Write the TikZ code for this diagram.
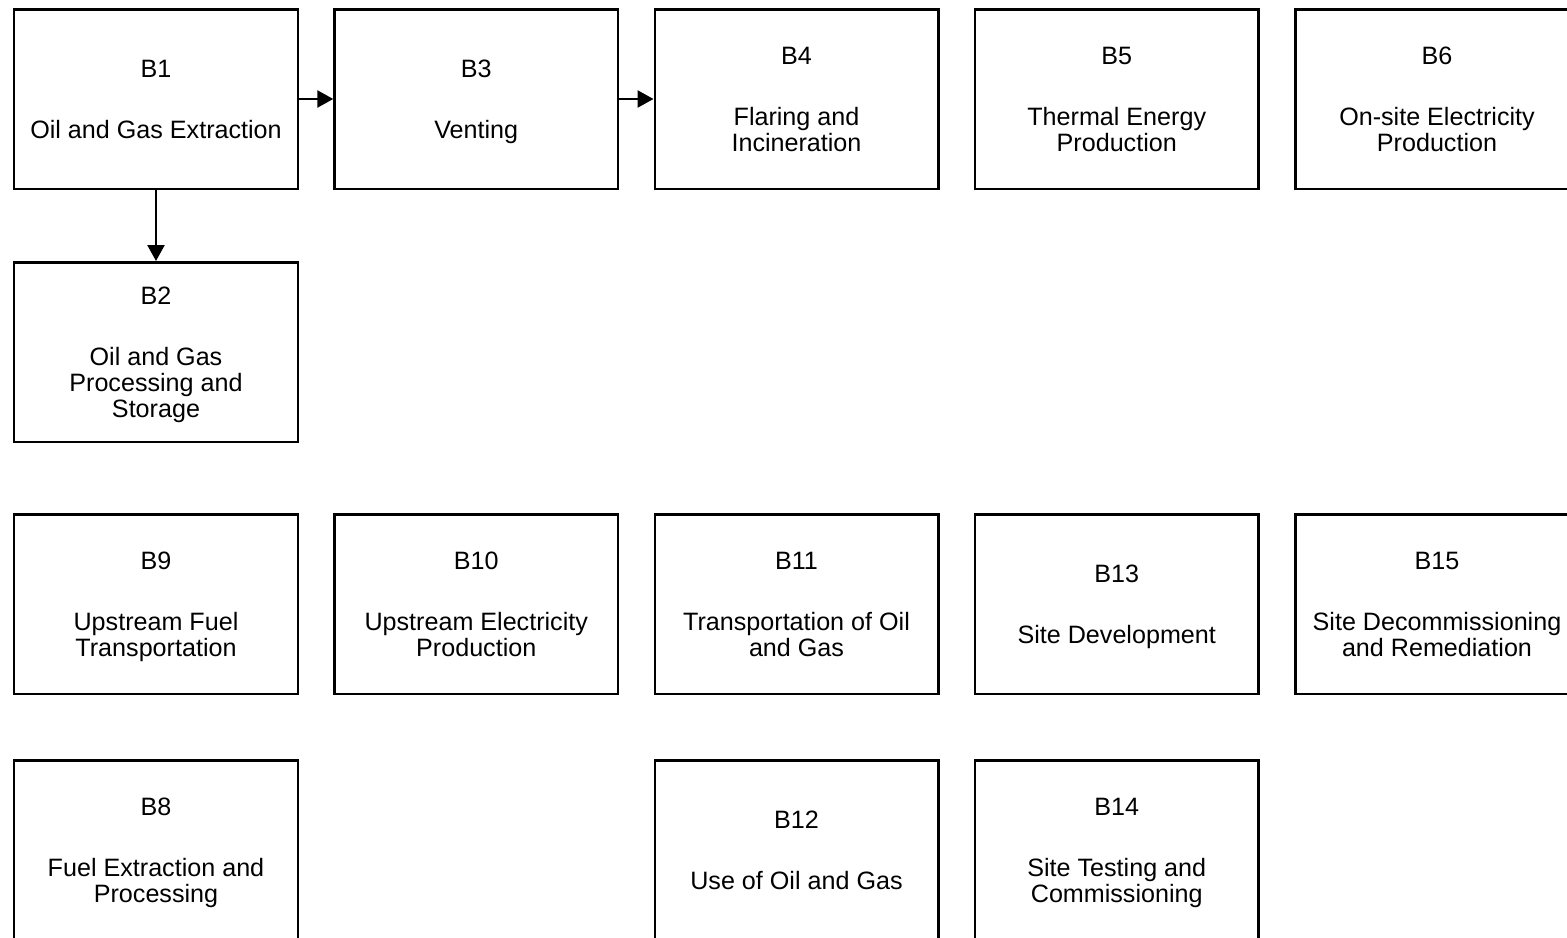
\documentclass[tikz,border=0pt]{standalone}
\usepackage{fontspec}
\setmainfont{Liberation Sans}
\usepackage{tikz}
\usetikzlibrary{arrows.meta, positioning}

\begin{document}
\begin{tikzpicture}[
  node distance=1.42cm and 0.685cm,
  block/.style={draw, line width=0.05cm, minimum width=5.67cm, minimum height=3.59cm,
    inner sep=0pt, text depth=0pt, align=center, font=\fontsize{14.3}{14.8}\selectfont},
  flow/.style={-{Triangle[length=0.32cm, width=0.34cm]}, line width=0.05cm}
]
  \useasboundingbox (0,0) rectangle (31.34,-18.76);

  % first row
  \node[block] (b1) at (3.12,-1.98) {B1\\[0.7cm]Oil and Gas Extraction};
  \node[block, right=of b1] (b3) {B3\\[0.7cm]Venting};
  \node[block, right=of b3] (b4) {B4\\[0.7cm]Flaring and\\Incineration};
  \node[block, right=of b4] (b5) {B5\\[0.7cm]Thermal Energy\\Production};
  \node[block, right=of b5] (b6) {B6\\[0.7cm]On-site Electricity\\Production};

  \node[block, below=of b1] (b2) {B2\\[0.7cm]Oil and Gas\\Processing and\\Storage};

  % third row
  \node[block, below=1.4cm of b2] (b9) {B9\\[0.7cm]Upstream Fuel\\Transportation};
  \node[block, right=of b9] (b10) {B10\\[0.7cm]Upstream Electricity\\Production};
  \node[block, right=of b10] (b11) {B11\\[0.7cm]Transportation of Oil\\and Gas};
  \node[block, right=of b11] (b13) {B13\\[0.7cm]Site Development};
  \node[block, right=of b13] (b15) {B15\\[0.7cm]Site Decommissioning\\and Remediation};

  % last row
  \node[block, below=1.28cm of b9] (b8) {B8\\[0.7cm]Fuel Extraction and\\Processing};
  \node[block, below=1.28cm of b11] (b12) {B12\\[0.7cm]Use of Oil and Gas};
  \node[block, below=1.28cm of b13] (b14) {B14\\[0.7cm]Site Testing and\\Commissioning};

  \draw[flow] (b1) -- (b3);
  \draw[flow] (b3) -- (b4);
  \draw[flow] (b1) -- (b2);
\end{tikzpicture}
\end{document}
